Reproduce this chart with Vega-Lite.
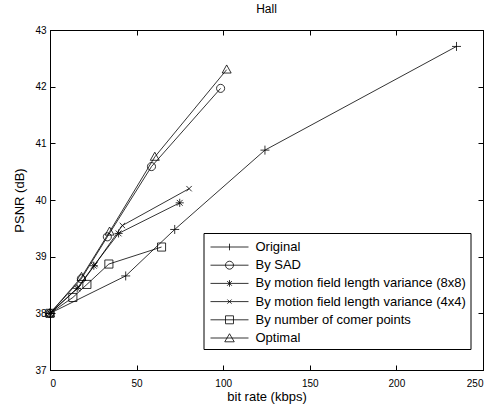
{
  "$schema": "https://vega.github.io/schema/vega-lite/v6.json",
  "autosize": "none",
  "width": 433,
  "height": 340,
  "padding": {"left": 50, "top": 30, "right": 18, "bottom": 39},
  "background": "white",
  "title": {"text": "Hall", "fontSize": 12, "fontWeight": "normal", "font": "Liberation Sans", "color": "black", "offset": 9},
  "config": {
    "view": {"stroke": "black", "strokeWidth": 1},
    "axis": {
      "labelFont": "Liberation Sans", "labelFontSize": 10, "labelColor": "black",
      "titleFont": "Liberation Sans", "titleFontSize": 13, "titleFontWeight": "normal", "titleColor": "black",
      "domainColor": "black", "tickColor": "black", "tickSize": -5, "grid": false
    },
    "legend": {"labelFont": "Liberation Sans", "labelFontSize": 13, "labelColor": "black", "labelLimit": 0}
  },
  "data": {"values": [
    {"series": "Original", "x": 0, "y": 38},
    {"series": "Original", "x": 43.7, "y": 38.66},
    {"series": "Original", "x": 72.0, "y": 39.48},
    {"series": "Original", "x": 124.1, "y": 40.88},
    {"series": "Original", "x": 234.7, "y": 42.71},
    {"series": "By SAD", "x": 0, "y": 38},
    {"series": "By SAD", "x": 18.1, "y": 38.61},
    {"series": "By SAD", "x": 33.1, "y": 39.35},
    {"series": "By SAD", "x": 58.6, "y": 40.59},
    {"series": "By SAD", "x": 98.5, "y": 41.97},
    {"series": "By motion field length variance (8x8)", "x": 0, "y": 38},
    {"series": "By motion field length variance (8x8)", "x": 15.7, "y": 38.44},
    {"series": "By motion field length variance (8x8)", "x": 25.3, "y": 38.84},
    {"series": "By motion field length variance (8x8)", "x": 39.6, "y": 39.41},
    {"series": "By motion field length variance (8x8)", "x": 74.9, "y": 39.95},
    {"series": "By motion field length variance (4x4)", "x": 0, "y": 38},
    {"series": "By motion field length variance (4x4)", "x": 16.5, "y": 38.46},
    {"series": "By motion field length variance (4x4)", "x": 26.0, "y": 38.86},
    {"series": "By motion field length variance (4x4)", "x": 41.8, "y": 39.55},
    {"series": "By motion field length variance (4x4)", "x": 80.3, "y": 40.2},
    {"series": "By number of corner points", "x": 0, "y": 38},
    {"series": "By number of corner points", "x": 13.2, "y": 38.28},
    {"series": "By number of corner points", "x": 21.3, "y": 38.51},
    {"series": "By number of corner points", "x": 34.0, "y": 38.87},
    {"series": "By number of corner points", "x": 64.4, "y": 39.17},
    {"series": "Optimal", "x": 0, "y": 38},
    {"series": "Optimal", "x": 18.2, "y": 38.64},
    {"series": "Optimal", "x": 34.4, "y": 39.44},
    {"series": "Optimal", "x": 60.5, "y": 40.76},
    {"series": "Optimal", "x": 102.0, "y": 42.3}
  ]},
  "resolve": {"scale": {"shape": "independent"}, "axis": {"x": "independent", "y": "independent"}},
  "layer": [
    {
      "mark": {"type": "line", "color": "black", "strokeWidth": 0.8},
      "encoding": {
        "x": {"field": "x", "type": "quantitative", "scale": {"domain": [0, 250], "nice": false},
              "axis": {"values": [0, 50, 100, 150, 200, 250], "title": "bit rate (kbps)", "labelPadding": 13, "titlePadding": 2}},
        "y": {"field": "y", "type": "quantitative", "scale": {"domain": [37, 43], "nice": false, "zero": false},
              "axis": {"values": [37, 38, 39, 40, 41, 42, 43], "title": "PSNR (dB)", "labelPadding": 9, "titlePadding": 8}},
        "detail": {"field": "series"}
      }
    },
    {
      "mark": {"type": "point", "filled": false, "color": "black", "strokeWidth": 0.8, "size": 81, "opacity": 1},
      "encoding": {
        "x": {"field": "x", "type": "quantitative", "axis": null},
        "y": {"field": "y", "type": "quantitative", "axis": null},
        "shape": {"field": "series", "type": "nominal", "legend": null,
          "scale": {
            "domain": ["Original", "By SAD", "By motion field length variance (8x8)", "By motion field length variance (4x4)", "By number of corner points", "Optimal"],
            "range": [
              "M-1,0H1M0,-1V1",
              "M-0.9,0A0.9,0.9 0 1,1 0.9,0A0.9,0.9 0 1,1 -0.9,0Z",
              "M-0.9,0H0.9M0,-0.9V0.9M-0.65,-0.65L0.65,0.65M-0.65,0.65L0.65,-0.65",
              "M-0.6,-0.6L0.6,0.6M-0.6,0.6L0.6,-0.6",
              "M-0.9,-0.9H0.9V0.9H-0.9Z",
              "M0,-1.05L1,0.75H-1Z"
            ]
          }
        }
      }
    },
    {
      "mark": {"type": "point", "filled": false, "color": "black", "strokeWidth": 0.8, "size": 361, "opacity": 0},
      "encoding": {
        "x": {"field": "x", "type": "quantitative", "axis": {"orient": "top", "values": [0, 50, 100, 150, 200, 250], "labels": false, "title": null}},
        "y": {"field": "y", "type": "quantitative", "axis": {"orient": "right", "values": [37, 38, 39, 40, 41, 42, 43], "labels": false, "title": null}},
        "shape": {"field": "series", "type": "nominal",
          "scale": {
            "domain": ["Original", "By SAD", "By motion field length variance (8x8)", "By motion field length variance (4x4)", "By number of corner points", "Optimal"],
            "range": [
              "M-2,0H2M0,-0.35V0.35",
              "M-2,0H2M-0.42,0A0.42,0.42 0 1,1 0.42,0A0.42,0.42 0 1,1 -0.42,0Z",
              "M-2,0H2M0,-0.35V0.35M-0.25,-0.25L0.25,0.25M-0.25,0.25L0.25,-0.25",
              "M-2,0H2M-0.22,-0.22L0.22,0.22M-0.22,0.22L0.22,-0.22",
              "M-2,0H2M-0.42,-0.42H0.42V0.42H-0.42Z",
              "M-2,0H2M0,-0.45L0.5,0.4H-0.5Z"
            ]
          },
          "legend": {
            "title": null, "orient": "none", "legendX": 153.5, "legendY": 203,
            "labelExpr": "replace(datum.label, 'corner', 'comer')",
            "symbolOpacity": 1, "symbolStrokeColor": "black", "symbolFillColor": "transparent", "symbolStrokeWidth": 0.8,
            "symbolSize": 361, "symbolOffset": 12, "labelOffset": 16, "rowPadding": 1.2,
            "strokeColor": "black", "fillColor": "white", "padding": 4
          }
        }
      }
    }
  ]
}
